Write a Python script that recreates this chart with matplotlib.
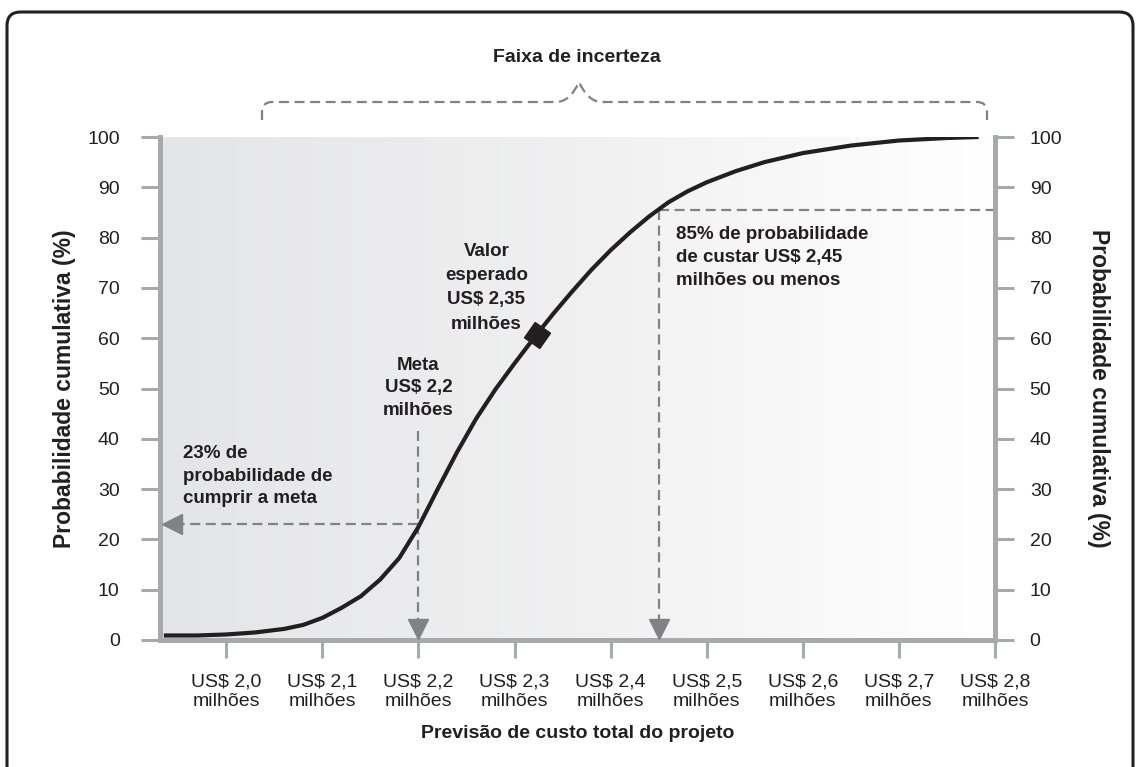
import numpy as np
import matplotlib
matplotlib.use("Agg")
import matplotlib.pyplot as plt
from matplotlib.colors import LinearSegmentedColormap
from matplotlib.path import Path
from matplotlib.patches import PathPatch, FancyBboxPatch
from matplotlib.markers import MarkerStyle
from matplotlib.transforms import IdentityTransform

# curva de probabilidade cumulativa (custo em milhões US$, %)
custo = [1.935, 1.97, 2.0, 2.03, 2.06, 2.08, 2.1, 2.12, 2.14, 2.16, 2.18,
         2.2, 2.22, 2.24, 2.26, 2.28, 2.3, 2.32, 2.34, 2.36, 2.38, 2.4,
         2.42, 2.44, 2.46, 2.48, 2.5, 2.53, 2.56, 2.6, 2.65, 2.7, 2.75, 2.783]
prob = [0.9, 0.9, 1.1, 1.5, 2.2, 3.0, 4.4, 6.4, 8.7, 12, 16.3,
        22.5, 30, 37.3, 44, 49.8, 55, 60, 64.8, 69.3, 73.6, 77.5,
        81, 84.2, 87, 89.2, 91, 93.2, 95, 96.8, 98.3, 99.3, 99.8, 100]

xticks = [2.0, 2.1, 2.2, 2.3, 2.4, 2.5, 2.6, 2.7, 2.8]
xlabels = ["US$ 2,0\nmilhões", "US$ 2,1\nmilhões", "US$ 2,2\nmilhões",
           "US$ 2,3\nmilhões", "US$ 2,4\nmilhões", "US$ 2,5\nmilhões",
           "US$ 2,6\nmilhões", "US$ 2,7\nmilhões", "US$ 2,8\nmilhões"]
yticks = [0, 10, 20, 30, 40, 50, 60, 70, 80, 90, 100]

meta_x, meta_p = 2.2, 23
esperado_x, esperado_p = 2.323, 60.6
p85_x, p85_p = 2.45, 85.5

XMIN, XMAX = 1.931, 2.8
GRAY = "#a7a9ac"
DASH = "#808285"
INK = "#231f20"

plt.rcParams["font.family"] = ["Liberation Sans", "DejaVu Sans"]

W, H = 1139, 767
fig = plt.figure(figsize=(W / 100, H / 100), dpi=100)
ax = fig.add_axes([160 / W, 1 - 640 / H, (995 - 160) / W, (640 - 137) / H])

# fundo em degradê
cmap = LinearSegmentedColormap.from_list("bg", ["#e4e5e7", "#f0f0f1", "#ffffff"])
ax.imshow(np.linspace(0, 1, 256).reshape(1, -1), cmap=cmap, aspect="auto",
          extent=[XMIN, XMAX, 0, 100], zorder=0)
ax.set_xlim(XMIN, XMAX)
ax.set_ylim(0, 100)

ax.plot(custo, prob, color=INK, lw=3, zorder=4, solid_capstyle="butt",
        solid_joinstyle="round")
ax.plot([esperado_x], [esperado_p], marker=MarkerStyle((4, 0, 10)), ms=19,
        color=INK, zorder=5)

# linhas tracejadas
dkw = dict(color=DASH, lw=1.6, dashes=(4.5, 2.5), zorder=3)
ax.plot([meta_x, meta_x], [41.5, 3], **dkw)
ax.plot([meta_x, XMIN + 0.02], [meta_p, meta_p], **dkw)
ax.plot([p85_x, p85_x], [p85_p, 3], **dkw)
ax.plot([p85_x, XMAX], [p85_p, p85_p], **dkw)
ax.plot([meta_x], [2.2], marker="v", ms=14, color=DASH, zorder=3, clip_on=False)
ax.plot([p85_x], [2.2], marker="v", ms=14, color=DASH, zorder=3, clip_on=False)
ax.plot([XMIN + 0.012], [meta_p], marker="<", ms=14, color=DASH, zorder=3, clip_on=False)

# eixos
for s in ["left", "bottom", "right"]:
    ax.spines[s].set_color(GRAY)
    ax.spines[s].set_linewidth(3.6)
ax.spines["top"].set_visible(False)

ax.set_xticks(xticks)
ax.set_xticklabels(xlabels, fontsize=14, color=INK, linespacing=1.18)
ax.set_yticks(yticks)
ax.set_yticklabels([str(v) for v in yticks], fontsize=14, color=INK)
ax.tick_params(axis="x", direction="out", length=13, width=2.2, color=GRAY, pad=11)
ax.tick_params(axis="y", direction="out", length=14, width=2.2, color=GRAY, pad=15)

ax2 = ax.twinx()
ax2.set_ylim(0, 100)
ax2.set_yticks(yticks)
ax2.set_yticklabels([str(v) for v in yticks], fontsize=14, color=INK)
ax2.tick_params(axis="y", direction="out", length=14, width=2.2, color=GRAY, pad=11)
for s in ["left", "bottom", "top"]:
    ax2.spines[s].set_visible(False)
ax2.spines["right"].set_color(GRAY)
ax2.spines["right"].set_linewidth(3.6)

ax.set_ylabel("Probabilidade cumulativa (%)", fontsize=16.5, fontweight="bold",
              color=INK, labelpad=8)
ax2.set_ylabel("Probabilidade cumulativa (%)", fontsize=16.5, fontweight="bold",
               color=INK, rotation=-90, labelpad=34)
ax.set_xlabel("Previsão de custo total do projeto", fontsize=14,
              fontweight="bold", color=INK, labelpad=11)

# anotações
tkw = dict(fontsize=13.5, fontweight="bold", color=INK, zorder=6)
ax.text(2.2706, 70.0, "Valor\nesperado\nUS$ 2,35\nmilhões", ha="center",
        va="center", linespacing=1.55, **tkw)
ax.text(2.2, 50.1, "Meta\nUS$ 2,2\nmilhões", ha="center", va="center",
        linespacing=1.4, **tkw)
ax.text(1.955, 32.6, "23% de\nprobabilidade de\ncumprir a meta", ha="left",
        va="center", linespacing=1.45, **tkw)
ax.text(2.468, 76.1, "85% de probabilidade\nde custar US$ 2,45\nmilhões ou menos",
        ha="left", va="center", linespacing=1.45, **tkw)

# chave "Faixa de incerteza"
def px(x, y):
    return (x, H - y)

verts = [px(262, 120), px(262, 112), px(262, 102), px(272, 102),
         px(556, 102), px(570, 102), px(579, 82),
         px(588, 102), px(602, 102),
         px(977, 102), px(987, 102), px(987, 112), px(987, 120)]
codes = [Path.MOVETO, Path.LINETO, Path.CURVE3, Path.CURVE3,
         Path.LINETO, Path.CURVE3, Path.CURVE3,
         Path.CURVE3, Path.CURVE3,
         Path.LINETO, Path.CURVE3, Path.CURVE3, Path.LINETO]
brace = PathPatch(Path(verts, codes), fill=False, edgecolor=DASH, lw=1.6,
                  linestyle=(0, (4.5, 2.5)), transform=IdentityTransform())
fig.patches.append(brace)
fig.text(577 / W, 1 - 58 / H, "Faixa de incerteza", ha="center", va="center",
         fontsize=14, fontweight="bold", color=INK)

# moldura
frame = FancyBboxPatch((7 / W, -0.05), (1133 - 7) / W, 1.05 - 12 / H,
                       boxstyle="round,pad=0,rounding_size=0.012",
                       transform=fig.transFigure, fill=False,
                       edgecolor=INK, lw=2.2, mutation_aspect=W / H)
fig.patches.append(frame)

fig.savefig("out.png", dpi=100)
